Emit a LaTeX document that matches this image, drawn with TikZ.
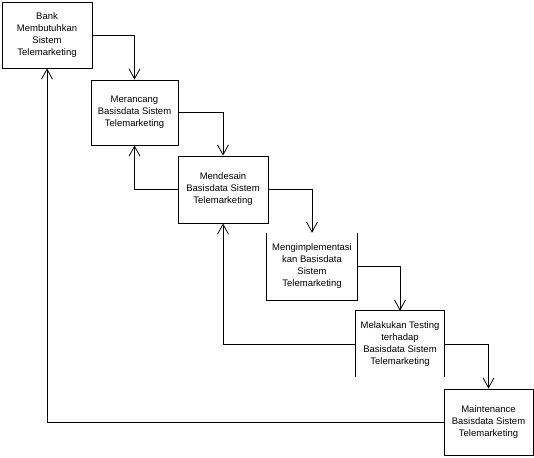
\documentclass[tikz,border=0pt]{standalone}
\usepackage{fontspec}
\setmainfont{Liberation Sans}
\usetikzlibrary{arrows.meta}
\begin{document}
\begin{tikzpicture}[x=1pt,y=-1pt,
  stagebox/.style={draw, line width=0.8pt, inner sep=0pt, align=center,
    font=\fontsize{9.5}{12}\selectfont},
  openbox/.style={inner sep=0pt, align=center, font=\fontsize{9.5}{12}\selectfont},
  flow/.style={line width=0.8pt, -{Straight Barb[length=10pt,width=11pt]}},
  edge/.style={line width=0.8pt}]
\useasboundingbox (0,0) rectangle (534,457);
\node[stagebox, minimum width=90pt, minimum height=66pt] (B1) at (47,35)
  {Bank\\Membutuhkan\\Sistem\\Telemarketing};
\node[stagebox, minimum width=87pt, minimum height=65pt] (B2) at (134.5,112.5)
  {Merancang\\Basisdata Sistem\\Telemarketing};
\node[stagebox, minimum width=90pt, minimum height=67pt] (B3) at (223,189.5)
  {Mendesain\\Basisdata Sistem\\Telemarketing};
\node[openbox, minimum width=90pt, minimum height=67pt] (B4) at (312,266.5)
  {Mengimplementasi\\kan Basisdata\\Sistem\\Telemarketing};
\node[openbox, minimum width=88pt, minimum height=66pt] (B5) at (400,344)
  {Melakukan Testing\\terhadap\\Basisdata Sistem\\Telemarketing};
\node[stagebox, minimum width=89pt, minimum height=66pt] (B6) at (488.5,422)
  {Maintenance\\Basisdata Sistem\\Telemarketing};
\draw[edge] (B4.north west) -- (B4.south west) -- (B4.south east) -- (B4.north east);
\draw[edge] (B5.south west) -- (B5.north west) -- (B5.north east) -- (B5.south east);
\draw[flow] (B1.east) -| (B2.north);
\draw[flow] (B2.east) -| (B3.north);
\draw[flow] (B3.east) -| (B4.north);
\draw[flow] (B4.east) -| (B5.north);
\draw[flow] (B5.east) -| (B6.north);
\draw[flow] (B6.west) -| (B1.south);
\draw[flow] (B5.west) -| (B3.south);
\draw[flow] (B3.west) -| (B2.south);
\end{tikzpicture}
\end{document}
